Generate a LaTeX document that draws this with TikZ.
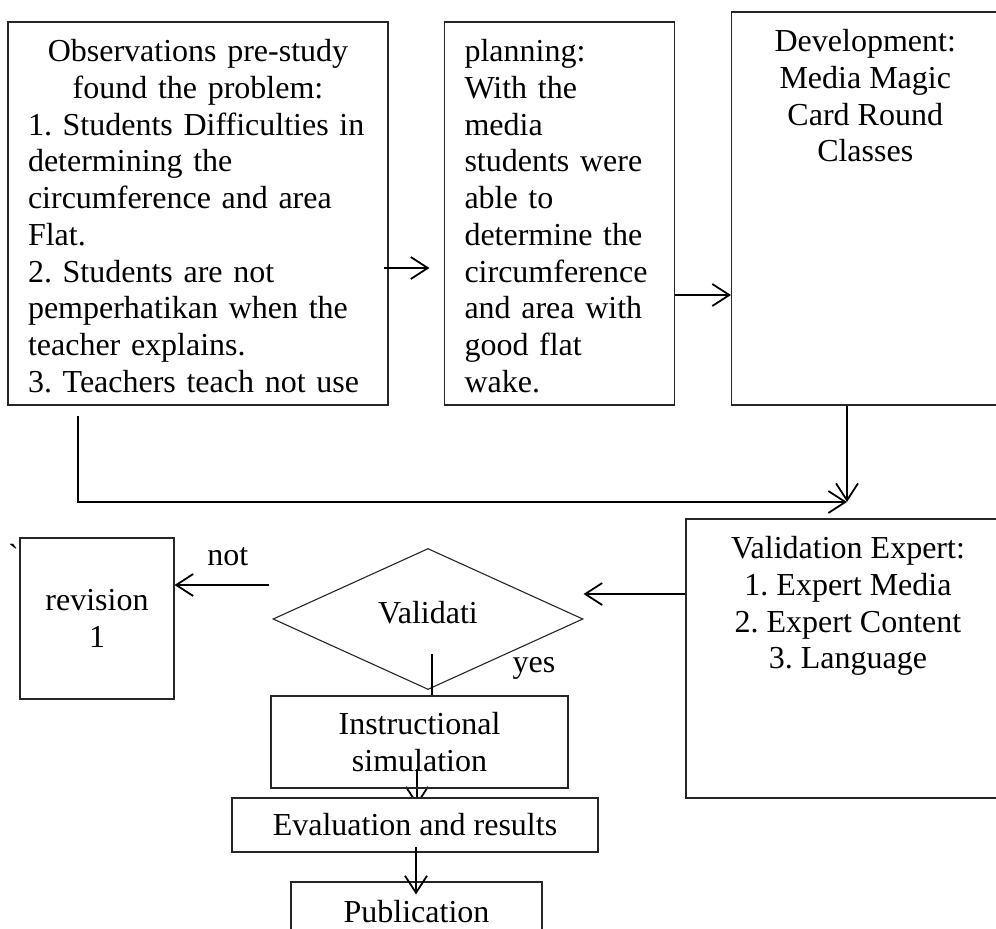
\documentclass[tikz,border=0pt]{standalone}
\usepackage{fontspec}
\setmainfont{Liberation Serif}
\usetikzlibrary{arrows.meta,shapes.geometric,backgrounds}

\begin{document}
\begin{tikzpicture}[x=1pt,y=1pt,font=\fontsize{32}{36.7}\selectfont\frenchspacing,
	box/.style={draw=black!85,line width=1.1pt,inner sep=0pt},
	txt/.style={inner sep=0pt,anchor=north,yshift=-18pt},
	arr/.style={-{Straight Barb[length=17pt,width=22pt]},line width=1.8pt},
	plain/.style={line width=1.8pt}]
					
					\useasboundingbox (0,0) rectangle (996,-929);
					\clip (0,0) rectangle (996,-929);
					
					% observations box
					\node[box,minimum width=380pt,minimum height=383pt] (obs) at (198,-213.5) {};
					\node[txt,text width=340pt,align=left] (obs1) at (obs.north) {{\centering Observations pre-study\\found the problem:\par}1. Students Difficulties in\\determining the\\circumference and area\\Flat.\\2. Students are not\\pemperhatikan when the\\teacher explains.\\3. Teachers teach not use};
					
					% planning box
					\node[box,minimum width=230pt,minimum height=383pt] (plan) at (559.5,-213.5) {};
					\node[txt,text width=190pt,align=left] (plan1) at (plan.north) {planning:\\With the\\media\\students were\\able to\\determine the\\circumference\\and area with\\good flat\\wake.};
					
					% development box
					\node[box,minimum width=267.5pt,minimum height=393pt] (dev) at (865.25,-208.5) {};
					\node[txt,align=center] (dev1) at (dev.north) {Development:\\Media Magic\\Card Round\\Classes};
					
					% validation expert
					\node[box,minimum width=324pt,minimum height=279pt] (valid) at (848,-658.5) {};
					\node[txt,align=center] (valid1) at (valid.north) {Validation Expert:\\1. Expert Media\\2. Expert Content\\3. Language};
					\coordinate (meet) at (847,-502);
					
					% decision and revision
					\node[box,minimum width=154pt,minimum height=161pt,align=center] (rev) at (97,-618.5) {revision\\1};
					\node[anchor=base west,inner sep=0pt] (tick) at (8,-566) {\textasciigrave};
					\node[box,diamond,minimum width=310pt,minimum height=141pt,text depth=14pt] (dec) at (428,-619) {Validati};
					\node (yeslbl) at (534,-668) {yes};
					
					% lower steps
					\node[box,minimum width=297pt,minimum height=92pt,align=center] (instr) at (419.5,-742) {Instructional\\simulation};
					\node[box,fill=white,minimum width=366pt,minimum height=54pt] (eval) at (415,-825) {Evaluation and results};
					\node[box,minimum width=251pt,minimum height=60pt] (pub) at (416.5,-912) {Publication};
					
					\draw[arr] ([shift={(-5,-54.5)}]obs.east) -- ([shift={(-14.5,-54.5)}]plan.west);
					\draw[arr] ([yshift=-81.5pt]plan.east) -- ([yshift=-81.5pt]plan.east -| dev.west);
					\draw[arr] ([shift={(-120,-10)}]obs.south) |- (meet);
					\draw[arr] ([xshift=-18.25pt]dev.south) -- (meet);
					
					\draw[arr] ([yshift=64.5pt]valid.west) -- ([yshift=25pt]dec.east);
					\draw[arr] ([shift={(-3,34)}]dec.west) -- ([yshift=33.5pt]rev.east) node[pos=0.44,yshift=28pt] (notlbl) {not};
					\draw[plain] ([shift={(4,-35)}]dec.center) -- ([xshift=12.5pt]instr.north);
					
					\begin{pgfonlayer}{background}
						\draw[arr] ([shift={(-2.5,20)}]instr.south) -- ([shift={(2,-8)}]eval.north);
					\end{pgfonlayer}
					\draw[arr] ([shift={(1,6)}]eval.south) -- ([shift={(-0.5,-13)}]pub.north);
					
				\end{tikzpicture}
\end{document}
